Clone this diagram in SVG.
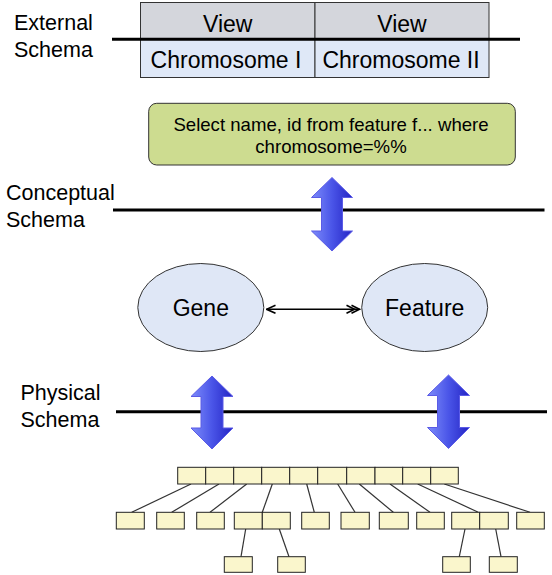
<svg xmlns="http://www.w3.org/2000/svg" width="552" height="575" viewBox="0 0 552 575">
<style>
.lbl{font-family:"Liberation Sans",Arial,sans-serif;font-size:21.5px;fill:#000}
.big{font-family:"Liberation Sans",Arial,sans-serif;font-size:23px;fill:#000;text-anchor:middle}
.sql{font-family:"Liberation Sans",Arial,sans-serif;font-size:18.6px;fill:#000;text-anchor:middle}
.layer{stroke:#000;stroke-width:3;fill:none}
.cell{stroke:#333;stroke-width:1}
.ell{fill:#dfe7f6;stroke:#333;stroke-width:1}
.box{fill:#faf6cc;stroke:#222;stroke-width:1}
.tl{stroke:#333;stroke-width:1.2;fill:none}
.dbl{fill:url(#blueg);stroke:#5b5be6;stroke-width:1}
</style>
<defs>
<linearGradient id="blueg" x1="0" y1="0" x2="1" y2="0">
<stop offset="0" stop-color="#7d8cfa"/>
<stop offset="0.5" stop-color="#4a55e8"/>
<stop offset="1" stop-color="#2424c4"/>
</linearGradient>
<marker id="one" markerWidth="12" markerHeight="10" refX="1" refY="5" orient="auto" markerUnits="userSpaceOnUse">
<path d="M10,1 L1,5 L10,9" fill="none" stroke="#000" stroke-width="1.6"/>
</marker>
<marker id="many" markerWidth="16" markerHeight="10" refX="14" refY="5" orient="auto" markerUnits="userSpaceOnUse">
<path d="M1,1 L9,5 L1,9 M6,1 L14,5 L6,9" fill="none" stroke="#000" stroke-width="1.6"/>
</marker>
</defs>

<g id="layer-labels">
<text class="lbl" x="14" y="30">External</text>
<text class="lbl" x="14" y="56.5">Schema</text>
<text class="lbl" x="6" y="200">Conceptual</text>
<text class="lbl" x="6" y="227">Schema</text>
<text class="lbl" x="20.5" y="400">Physical</text>
<text class="lbl" x="20.5" y="426.5">Schema</text>
</g>

<g id="external-views">
<rect class="cell" x="140.5" y="2.5" width="174.5" height="36.5" fill="#d4d6dc"/>
<rect class="cell" x="315" y="2.5" width="174" height="36.5" fill="#d4d6dc"/>
<rect class="cell" x="140.5" y="39" width="174.5" height="38.5" fill="#dfe8f7"/>
<rect class="cell" x="315" y="39" width="174" height="38.5" fill="#dfe8f7"/>
<text class="big" x="227.7" y="31.5">View</text>
<text class="big" x="402" y="31.5">View</text>
<text class="big" x="226" y="68.3">Chromosome I</text>
<text class="big" x="401" y="68.3">Chromosome II</text>
</g>

<g id="layer-lines">
<line class="layer" x1="112" y1="39.3" x2="520" y2="39.3"/>
<line class="layer" x1="113" y1="210" x2="544.5" y2="210"/>
<line class="layer" x1="116" y1="411.7" x2="547" y2="411.7"/>
</g>

<g id="sql">
<rect x="148.7" y="103.3" width="366.6" height="61.7" rx="8" ry="8" fill="#cddc90" stroke="#333" stroke-width="1"/>
<text class="sql" x="331" y="130.7">Select name, id from feature f... where</text>
<text class="sql" x="331" y="153.3">chromosome=%%</text>
</g>

<g id="gene">
<ellipse class="ell" cx="200.8" cy="307.5" rx="63" ry="44"/>
<text class="big" x="200.8" y="316">Gene</text>
</g>
<g id="feature">
<ellipse class="ell" cx="424.7" cy="307.5" rx="63" ry="44"/>
<text class="big" x="424.7" y="316">Feature</text>
</g>

<g id="mapping-arrows">
<path class="dbl" d="M332,177.5 L352.5,197.5 L342.5,197.5 L342.5,231 L352.5,231 L332,251 L311.5,231 L321.5,231 L321.5,197.5 L311.5,197.5 Z"/>
<path class="dbl" d="M212,376 L233,396.5 L223,396.5 L223,428 L233,428 L212,449 L191,428 L201,428 L201,396.5 L191,396.5 Z"/>
<path class="dbl" d="M448.5,375 L469.5,395.5 L459.5,395.5 L459.5,427.5 L469.5,427.5 L448.5,448.5 L427.5,427.5 L437.5,427.5 L437.5,395.5 L427.5,395.5 Z"/>
</g>

<g id="connectors">
<line x1="266.5" y1="309.3" x2="359.5" y2="309.3" stroke="#000" stroke-width="1.6" marker-start="url(#one)" marker-end="url(#many)"/>
<g class="tl">
<line x1="191" y1="484" x2="131.7" y2="512.3"/>
<line x1="219" y1="484" x2="171.7" y2="512.3"/>
<line x1="246.7" y1="484" x2="210" y2="512.3"/>
<line x1="272.3" y1="484" x2="262.3" y2="512.3"/>
<line x1="306.7" y1="484" x2="314.3" y2="512.3"/>
<line x1="337.7" y1="484" x2="355" y2="512.3"/>
<line x1="359.3" y1="484" x2="393.3" y2="512.3"/>
<line x1="390" y1="484" x2="430" y2="512.3"/>
<line x1="417.7" y1="484" x2="478.3" y2="512.3"/>
<line x1="444.3" y1="484" x2="530" y2="512.3"/>
<line x1="245.7" y1="529" x2="241" y2="556.7"/>
<line x1="279.3" y1="529" x2="289" y2="556.7"/>
<line x1="465" y1="529" x2="459.3" y2="556.7"/>
<line x1="495.7" y1="529" x2="501" y2="556.7"/>
</g>
</g>

<g id="physical-tree">
<rect class="box" x="177.7" y="467.3" width="28" height="16.7"/>
<rect class="box" x="205.7" y="467.3" width="28" height="16.7"/>
<rect class="box" x="233.7" y="467.3" width="28" height="16.7"/>
<rect class="box" x="261.7" y="467.3" width="28" height="16.7"/>
<rect class="box" x="289.7" y="467.3" width="28" height="16.7"/>
<rect class="box" x="317.7" y="467.3" width="29" height="16.7"/>
<rect class="box" x="346.7" y="467.3" width="28.3" height="16.7"/>
<rect class="box" x="375" y="467.3" width="27.7" height="16.7"/>
<rect class="box" x="402.7" y="467.3" width="28" height="16.7"/>
<rect class="box" x="430.7" y="467.3" width="27.6" height="16.7"/>

<rect class="box" x="116.3" y="512.3" width="28" height="16.7"/>
<rect class="box" x="156.7" y="512.3" width="27.6" height="16.7"/>
<rect class="box" x="196.7" y="512.3" width="27.6" height="16.7"/>
<rect class="box" x="234.3" y="512.3" width="28" height="16.7"/>
<rect class="box" x="262.3" y="512.3" width="28" height="16.7"/>
<rect class="box" x="301.7" y="512.3" width="27.6" height="16.7"/>
<rect class="box" x="341" y="512.3" width="28.3" height="16.7"/>
<rect class="box" x="379.3" y="512.3" width="29" height="16.7"/>
<rect class="box" x="416.7" y="512.3" width="27.6" height="16.7"/>
<rect class="box" x="451.7" y="512.3" width="28" height="16.7"/>
<rect class="box" x="479.7" y="512.3" width="28.6" height="16.7"/>
<rect class="box" x="516.7" y="512.3" width="27.6" height="16.7"/>

<rect class="box" x="224.3" y="556.7" width="28" height="15.6"/>
<rect class="box" x="277.7" y="556.7" width="27.6" height="15.6"/>
<rect class="box" x="442.7" y="556.7" width="27.6" height="15.6"/>
<rect class="box" x="489.3" y="556.7" width="28" height="15.6"/>
</g>
</svg>
